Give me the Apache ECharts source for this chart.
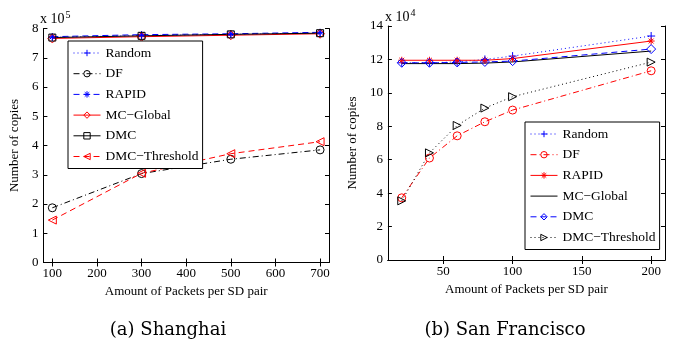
<!DOCTYPE html>
<html>
<head>
<meta charset="utf-8">
<script src="https://cdn.jsdelivr.net/npm/echarts@6/dist/echarts.min.js"></script>
<style>
  html, body { margin: 0; padding: 0; background: #fff; }
  #wrap { position: relative; width: 675px; height: 343px; }
  #sh { position: absolute; left: 0; top: 0; width: 338px; height: 343px; }
  #sf { position: absolute; left: 338px; top: 0; width: 337px; height: 343px; }
</style>
</head>
<body>
<div id="wrap">
  <div id="sh"></div>
  <div id="sf"></div>
</div>
<script>
// (a) Shanghai, values in units of 1e5
const pktSH = [100, 300, 500, 700]
const randomSH = [7.70, 7.76, 7.80, 7.85]
const dfSH = [1.87, 3.04, 3.53, 3.85]
const rapidSH = [7.72, 7.79, 7.82, 7.87]
const mcGlobalSH = [7.66, 7.72, 7.77, 7.82]
const dmcSH = [7.69, 7.75, 7.80, 7.84]
const thrSH = [1.45, 3.05, 3.72, 4.13]
const xTicksSH = [100, 200, 300, 400, 500, 600, 700]

// (b) San Francisco, values in units of 1e4
const pktSF = [20, 40, 60, 80, 100, 200]
const randomSF = [11.8, 11.8, 11.85, 12.0, 12.2, 13.4]
const dfSF = [3.72, 6.1, 7.43, 8.27, 8.97, 11.32]
const rapidSF = [11.95, 11.95, 11.95, 11.95, 12.05, 13.1]
const mcGlobalSF = [11.75, 11.75, 11.75, 11.78, 11.85, 12.5]
const dmcSF = [11.8, 11.8, 11.82, 11.85, 11.9, 12.62]
const thrSF = [3.54, 6.41, 8.05, 9.09, 9.77, 11.84]
const xTicksSF = [50, 100, 150, 200]

const names = ['Random', 'DF', 'RAPID', 'MC\u2212Global', 'DMC', 'DMC\u2212Threshold']

const FONT = 'Liberation Serif'
const BLUE = '#0000ff'
const RED = '#ff0000'
const BLACK = '#000000'
const CLEAR = 'rgba(0,0,0,0)'

const SYM = {
  plus: 'path://M5,0L5,10M0,5L10,5',
  star: 'path://M5,0L5,10M0,5L10,5M1.5,1.5L8.5,8.5M8.5,1.5L1.5,8.5',
  circle: 'circle',
  diamond: 'diamond',
  square: 'rect',
  triLeft: 'path://M0,5L10,0L10,10Z',
  triRight: 'path://M0,0L10,5L0,10Z',
  none: 'none'
}
const DASH = {
  solid: 'solid',
  dotted: [1, 3],
  dashed: [6, 4],
  dashdot: [6, 3, 1, 3]
}

function line(name, xs, ys, color, dash, symbol, size) {
  return {
    name,
    type: 'line',
    data: xs.map((x, i) => [x, ys[i]]),
    symbol: SYM[symbol],
    symbolSize: size || 8,
    lineStyle: { color, width: 1, type: DASH[dash] },
    itemStyle: { color: CLEAR, borderColor: color, borderWidth: 1 },
    emphasis: { disabled: true },
    animation: false
  }
}

function axes(xmin, xmax, xTicks, ymax, yInt, nameGapY) {
  const lbl = { color: BLACK, fontFamily: FONT, fontSize: 13 }
  const axLine = { show: true, lineStyle: { color: BLACK, width: 1 } }
  return {
    xAxis: [
      {
        type: 'value', min: xmin, max: xmax, position: 'bottom',
        axisLine: axLine,
        axisTick: { inside: true, length: 4, lineStyle: { color: BLACK }, customValues: xTicks },
        axisLabel: { ...lbl, margin: 5, customValues: xTicks },
        splitLine: { show: false },
        name: 'Amount of Packets per SD pair', nameLocation: 'middle', nameGap: 18,
        nameTextStyle: { ...lbl }
      },
      {
        type: 'value', min: xmin, max: xmax, position: 'top',
        axisLine: axLine,
        axisTick: { inside: true, length: 4, lineStyle: { color: BLACK }, customValues: xTicks },
        axisLabel: { show: false },
        splitLine: { show: false }
      }
    ],
    yAxis: [
      {
        type: 'value', min: 0, max: ymax, interval: yInt, position: 'left',
        axisLine: axLine,
        axisTick: { inside: true, length: 4, lineStyle: { color: BLACK } },
        axisLabel: { ...lbl, margin: 5 },
        splitLine: { show: false },
        name: 'Number of copies', nameLocation: 'middle', nameRotate: 90, nameGap: nameGapY,
        nameTextStyle: { ...lbl }
      },
      {
        type: 'value', min: 0, max: ymax, interval: yInt, position: 'right',
        axisLine: axLine,
        axisTick: { inside: true, length: 4, lineStyle: { color: BLACK } },
        axisLabel: { show: false },
        splitLine: { show: false }
      }
    ]
  }
}

// legend entries spelled out so the markers stay hollow and the lines thin
function legend(left, top, styles) {
  return {
    data: names.map((name, i) => {
      const [color, marker, dash] = styles[i]
      return {
        name,
        itemStyle: {
          color: CLEAR,
          borderColor: marker === 'none' ? CLEAR : color,
          borderWidth: 1
        },
        lineStyle: { color, width: 1, type: DASH[dash] }
      }
    }),
    orient: 'vertical',
    left, top,
    itemWidth: 27,
    itemHeight: 8,
    itemGap: 6.7,
    padding: [5, 4, 5, 5],
    borderColor: BLACK,
    borderWidth: 1,
    backgroundColor: '#fff',
    selectedMode: false,
    textStyle: { color: BLACK, fontFamily: FONT, fontSize: 13.5, lineHeight: 14 }
  }
}

function exponent(left, top, p) {
  return {
    type: 'text', left, top,
    style: {
      text: '{a|x 10}{s|' + p + '}',
      rich: {
        a: { fontFamily: FONT, fontSize: 14, fill: BLACK },
        s: { fontFamily: FONT, fontSize: 10, fill: BLACK, verticalAlign: 'top', padding: [0, 0, 8, 1] }
      }
    }
  }
}

function caption(cx, cy, text) {
  return {
    type: 'text', x: cx, y: cy,
    style: { text, fontFamily: 'DejaVu Serif', fontSize: 18, fill: BLACK, align: 'center', verticalAlign: 'middle' }
  }
}

// [color, marker, dash] per series
const stylesSH = [
  [BLUE, 'plus', 'dotted'],
  [BLACK, 'circle', 'dashdot'],
  [BLUE, 'star', 'dashed'],
  [RED, 'diamond', 'solid'],
  [BLACK, 'square', 'solid'],
  [RED, 'triLeft', 'dashed']
]
const stylesSF = [
  [BLUE, 'plus', 'dotted'],
  [RED, 'circle', 'dashdot'],
  [RED, 'star', 'solid'],
  [BLACK, 'none', 'solid'],
  [BLUE, 'diamond', 'dashed'],
  [BLACK, 'triRight', 'dotted']
]
const sizes = { plus: 8, circle: 8, star: 7, diamond: 9, square: 7, triLeft: 8, triRight: 8, none: 7 }

function seriesFor(xs, valueLists, styles) {
  return valueLists.map((ys, i) =>
    line(names[i], xs, ys, styles[i][0], styles[i][2], styles[i][1], sizes[styles[i][1]]))
}

const shChart = echarts.init(document.getElementById('sh'), null, { renderer: 'canvas' })
shChart.setOption({
  animation: false,
  grid: { left: 40, top: 28.5, width: 289, height: 234 },
  ...axes(80, 720, xTicksSH, 8, 1, 14),
  legend: legend(68, 41, stylesSH),
  graphic: [exponent(40, 10, '5'), caption(168, 330, '(a) Shanghai')],
  series: seriesFor(pktSH, [randomSH, dfSH, rapidSH, mcGlobalSH, dmcSH, thrSH], stylesSH)
})

const sfChart = echarts.init(document.getElementById('sf'), null, { renderer: 'canvas' })
sfChart.setOption({
  animation: false,
  grid: { left: 47, top: 26, width: 280, height: 234 },
  ...axes(10, 210, xTicksSF, 14, 2, 19),
  legend: legend(187, 122, stylesSF),
  graphic: [exponent(47, 8, '4'), caption(167, 330, '(b) San Francisco')],
  series: seriesFor(pktSF, [randomSF, dfSF, rapidSF, mcGlobalSF, dmcSF, thrSF], stylesSF)
})
</script>
</body>
</html>
